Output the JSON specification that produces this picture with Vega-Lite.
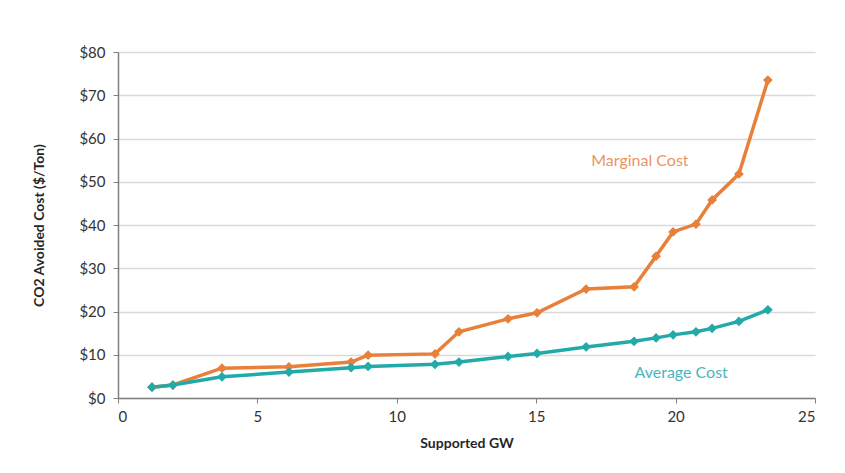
{
  "$schema": "https://vega.github.io/schema/vega-lite/v6.json",
  "width": 697,
  "height": 346,
  "autosize": "none",
  "padding": {"left": 118, "top": 52, "right": 30, "bottom": 75},
  "background": "white",
  "config": {
    "font": "Lato",
    "view": {"stroke": null},
    "axis": {"labelFont": "Lato", "titleFont": "Lato", "labelColor": "#333333", "titleColor": "#262626"}
  },
  "datasets": {
    "pts": [
      {"gw": 1.22, "cost": 2.5, "series": "Marginal"},
      {"gw": 1.97, "cost": 3.0, "series": "Marginal"},
      {"gw": 3.73, "cost": 6.9, "series": "Marginal"},
      {"gw": 6.13, "cost": 7.2, "series": "Marginal"},
      {"gw": 8.36, "cost": 8.3, "series": "Marginal"},
      {"gw": 8.97, "cost": 9.9, "series": "Marginal"},
      {"gw": 11.37, "cost": 10.2, "series": "Marginal"},
      {"gw": 12.23, "cost": 15.3, "series": "Marginal"},
      {"gw": 13.99, "cost": 18.3, "series": "Marginal"},
      {"gw": 15.03, "cost": 19.7, "series": "Marginal"},
      {"gw": 16.79, "cost": 25.2, "series": "Marginal"},
      {"gw": 18.51, "cost": 25.7, "series": "Marginal"},
      {"gw": 19.3, "cost": 32.8, "series": "Marginal"},
      {"gw": 19.91, "cost": 38.4, "series": "Marginal"},
      {"gw": 20.73, "cost": 40.2, "series": "Marginal"},
      {"gw": 21.31, "cost": 45.8, "series": "Marginal"},
      {"gw": 22.27, "cost": 51.8, "series": "Marginal"},
      {"gw": 23.31, "cost": 73.5, "series": "Marginal"},
      {"gw": 1.22, "cost": 2.5, "series": "Average"},
      {"gw": 1.97, "cost": 3.0, "series": "Average"},
      {"gw": 3.73, "cost": 4.9, "series": "Average"},
      {"gw": 6.13, "cost": 6.0, "series": "Average"},
      {"gw": 8.36, "cost": 7.0, "series": "Average"},
      {"gw": 8.97, "cost": 7.3, "series": "Average"},
      {"gw": 11.37, "cost": 7.8, "series": "Average"},
      {"gw": 12.23, "cost": 8.3, "series": "Average"},
      {"gw": 13.99, "cost": 9.6, "series": "Average"},
      {"gw": 15.03, "cost": 10.3, "series": "Average"},
      {"gw": 16.79, "cost": 11.8, "series": "Average"},
      {"gw": 18.51, "cost": 13.1, "series": "Average"},
      {"gw": 19.3, "cost": 13.9, "series": "Average"},
      {"gw": 19.91, "cost": 14.6, "series": "Average"},
      {"gw": 20.73, "cost": 15.3, "series": "Average"},
      {"gw": 21.31, "cost": 16.1, "series": "Average"},
      {"gw": 22.27, "cost": 17.7, "series": "Average"},
      {"gw": 23.31, "cost": 20.4, "series": "Average"}
    ],
    "labels": [
      {"gw": 18.72, "cost": 54.8, "text": "Marginal Cost", "series": "Marginal"},
      {"gw": 20.2, "cost": 5.8, "text": "Average Cost", "series": "Average"}
    ]
  },
  "layer": [
    {
      "data": {"name": "pts"},
      "mark": {"type": "line", "strokeWidth": 3.5, "point": {"shape": "diamond", "size": 95, "filled": true}},
      "encoding": {
        "x": {
          "field": "gw", "type": "quantitative",
          "scale": {"domain": [0, 25], "nice": false},
          "axis": {
            "values": [0, 5, 10, 15, 20, 25], "grid": false, "title": "Supported GW",
            "titleFontSize": 14, "titleFontWeight": "bold", "titlePadding": 12,
            "labelFontSize": 15, "labelPadding": 6, "domainColor": "#808080", "tickColor": "#808080",
            "tickSize": 5, "domainWidth": 1.5
          }
        },
        "y": {
          "field": "cost", "type": "quantitative",
          "scale": {"domain": [0, 80], "nice": false},
          "axis": {
            "values": [0, 10, 20, 30, 40, 50, 60, 70, 80],
            "labelExpr": "'$' + datum.value",
            "title": "CO2 Avoided Cost ($/Ton)",
            "titleFontSize": 14, "titleFontWeight": "bold", "titlePadding": 32,
            "labelFontSize": 15, "labelPadding": 8,
            "gridColor": "#d9d9d9", "gridWidth": 1.5,
            "domainColor": "#808080", "tickColor": "#808080", "tickSize": 5, "domainWidth": 1.5
          }
        },
        "color": {
          "field": "series", "type": "nominal",
          "scale": {"domain": ["Marginal", "Average"], "range": ["#e8803a", "#22aaa8"]},
          "legend": null
        }
      }
    },
    {
      "data": {"name": "labels"},
      "mark": {"type": "text", "fontSize": 16, "font": "Lato", "align": "center", "baseline": "middle"},
      "encoding": {
        "x": {"field": "gw", "type": "quantitative"},
        "y": {"field": "cost", "type": "quantitative"},
        "text": {"field": "text"},
        "color": {
          "field": "series", "type": "nominal",
          "scale": {"domain": ["Marginal", "Average"], "range": ["#ec9460", "#4ab6ba"]},
          "legend": null
        }
      }
    }
  ],
  "resolve": {"scale": {"color": "independent"}}
}
